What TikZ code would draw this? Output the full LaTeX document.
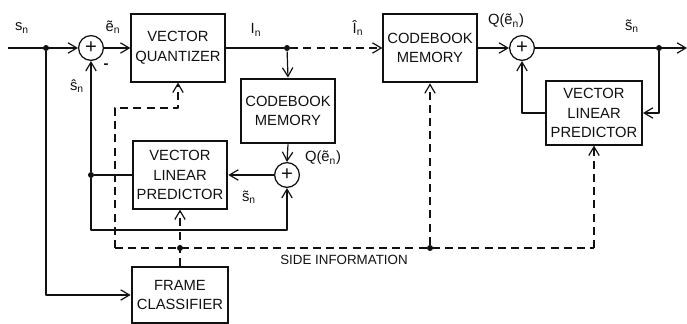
\documentclass[tikz,border=0pt]{standalone}
\usepackage{fontspec}
\setmainfont{Liberation Sans}
\usepackage{tikz}
\usetikzlibrary{arrows.meta,positioning,calc}
\definecolor{Ink}{HTML}{111111}
\newcommand{\sgl}[2]{\mbox{#1}$_{\mathrm{#2}}$}

\begin{document}
\begin{tikzpicture}[x=0.25mm,y=0.25mm]
  \path[use as bounding box] (0,0) rectangle (687,324);
  \tikzset{
    vqBlock/.style={
      draw=Ink, line width=1.4pt, fill=white,
      inner sep=1mm, align=center, text=Ink,
      font=\fontsize{10.5}{14}\selectfont
    },
    vqSum/.style={
      circle, draw=Ink, line width=.9pt, minimum size=6.2mm,
      inner sep=0pt, font=\Large, text=Ink
    },
    vqDot/.style={circle, fill=Ink, inner sep=0pt, minimum size=1.5mm},
    vqFlow/.style={
      -{Straight Barb[length=2.2mm,width=2.6mm]}, draw=Ink,
      line width=.85pt, line join=round
    },
    vqLine/.style={draw=Ink, line width=.85pt, line join=round},
    vqSide/.style={vqLine, dash pattern=on 2mm off 1.3mm},
    vqLabel/.style={font=\fontsize{10.5}{12}\selectfont, text=Ink, inner sep=0pt}
  }

  % blocks
  \node[vqBlock, minimum width=22.5mm, minimum height=16.8mm] (vq) at (178,276)
    {VECTOR\\QUANTIZER};
  \node[vqBlock, minimum width=22mm, minimum height=16.2mm] (cbA) at (288,213)
    {CODEBOOK\\MEMORY};
  \node[vqBlock, minimum width=23.2mm, minimum height=16.8mm] (vlpA) at (180,149)
    {VECTOR\\LINEAR\\PREDICTOR};
  \node[vqBlock, minimum width=24.2mm, minimum height=14mm] (fc) at (180,29)
    {FRAME\\CLASSIFIER};
  \node[vqBlock, minimum width=22.5mm, minimum height=17.2mm] (cbB) at (430,276)
    {CODEBOOK\\MEMORY};
  \node[vqBlock, minimum width=24mm, minimum height=15.8mm] (vlpB) at (594,211)
    {VECTOR\\LINEAR\\PREDICTOR};

  % summing junctions
  \node[vqSum] (sumA) at (91,276) {+};
  \node[vqSum] (sumB) at (287,149) {+};
  \node[vqSum] (sumC) at (522,276) {+};

  % branch points
  \coordinate (in) at (8,276);
  \coordinate (out) at (687,276);
  \node[vqDot] (dotIn) at (46,276) {};
  \node[vqDot] (dotI) at (287,276) {};
  \node[vqDot] (dotFb) at (91,149) {};
  \node[vqDot] (dotOut) at (659,276) {};
  \coordinate (loopA) at (91,94);
  \coordinate (sdL) at (115,76);
  \coordinate (sdR) at (594,76);
  \coordinate (qBend) at (115,216);
  \node[vqDot] (sdA) at (180,76) {};
  \node[vqDot] (sdB) at (430,76) {};

  % encoder
  \draw[vqFlow] (in) -- (sumA.west);
  \draw[vqFlow] (sumA.east) -- (vq.west);
  \draw[vqLine] (vq.east) -- (dotI);
  \draw[vqFlow] (dotI) -- (cbA.north);
  \draw[vqSide,-{Straight Barb[length=2.2mm,width=2.6mm]}] (dotI) -- (cbB.west);
  \draw[vqFlow] (cbA.south) -- (sumB.north);
  \draw[vqFlow] (sumB.west) -- (vlpA.east);
  \draw[vqLine] (vlpA.west) -- (dotFb);
  \draw[vqFlow] (dotFb) -- (sumA.south);
  \draw[vqFlow] (dotFb) -- (loopA) -| (sumB.south);
  \draw[vqFlow] (dotIn) |- (fc.west);

  % side information
  \draw[vqSide] (sdL) -- (sdR);
  \draw[vqSide,-{Straight Barb[length=2.2mm,width=2.6mm]}] (sdL) -- (qBend) -| (vq.south);
  \draw[vqSide,-{Straight Barb[length=2.2mm,width=2.6mm]}] (fc.north) -- (vlpA.south);
  \draw[vqSide,-{Straight Barb[length=2.2mm,width=2.6mm]}] (sdB) -- (cbB.south);
  \draw[vqSide,-{Straight Barb[length=2.2mm,width=2.6mm]}] (sdR) -- (vlpB.south);

  % decoder
  \draw[vqFlow] (cbB.east) -- (sumC.west);
  \draw[vqFlow] (sumC.east) -- (out);
  \draw[vqFlow] (dotOut) |- (vlpB.east);
  \draw[vqFlow] (vlpB.west) -| (sumC.south);

  % labels
  \node[vqLabel] (lSn) at (22,296) {\sgl{s}{n}};
  \node[vqLabel] (lEn) at (113,297) {\sgl{\~{e}}{n}};
  \node[vqLabel] (lMinus) at (106,258) {\textbf{-}};
  \node[vqLabel] (lShat) at (77,238) {\sgl{\^{s}}{n}};
  \node[vqLabel] (lIn) at (256,294) {\sgl{I}{n}};
  \node[vqLabel] (lIhat) at (358,296) {\sgl{\^{I}}{n}};
  \node[vqLabel] (lQa) at (323,166) {Q(\sgl{\~{e}}{n})};
  \node[vqLabel] (lStA) at (249,127) {\sgl{\~{s}}{n}};
  \node[vqLabel] (lQb) at (506,303) {Q(\sgl{\~{e}}{n})};
  \node[vqLabel] (lStB) at (632,298) {\sgl{\~{s}}{n}};
  \node[vqLabel, font=\fontsize{9.5}{11}\selectfont] (lSide) at (344,64)
    {SIDE INFORMATION};
\end{tikzpicture}
\end{document}
